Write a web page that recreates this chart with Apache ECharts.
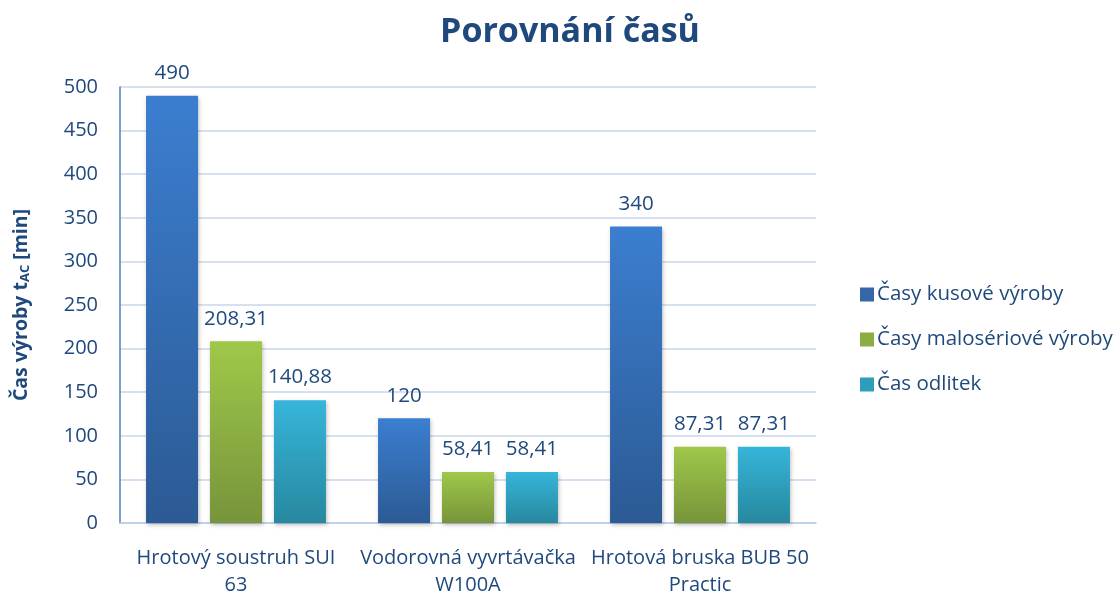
<!DOCTYPE html>
<html lang="cs">
<head>
  <meta charset="UTF-8">
  <title>Porovnání časů</title>
  <script src="https://cdn.jsdelivr.net/npm/echarts@6/dist/echarts.min.js"></script>
  <style>
    body { margin: 0; padding: 0; background: #fff; }
    #chart { width: 1118px; height: 593px; }
  </style>
</head>
<body>
  <div id="chart"></div>
  <script>
    // data
    const machines = ['Hrotový soustruh SUI\n63', 'Vodorovná vyvrtávačka\nW100A', 'Hrotová bruska BUB 50\nPractic'];
    const seriesNames = ['Časy kusové výroby', 'Časy malosériové výroby', 'Čas odlitek'];
    const kusove = [490, 120, 340];
    const maloseriove = [208.31, 58.41, 87.31];
    const odlitek = [140.88, 58.41, 87.31];

    const textColor = '#1F497D';
    const font = '"Open Sans", "Noto Sans", sans-serif';

    function grad(top, bottom) {
      return new echarts.graphic.LinearGradient(0, 0, 0, 1, [
        { offset: 0, color: top },
        { offset: 1, color: bottom }
      ]);
    }

    const colors = [
      grad('#3B7ED0', '#2C5A94'),
      grad('#9FC84A', '#77943A'),
      grad('#36B5DA', '#27889E')
    ];
    const legendColors = ['#3566A8', '#8AAE42', '#2E9DBC'];

    function fmt(v) {
      return String(v).replace('.', ',');
    }

    const chart = echarts.init(document.getElementById('chart'));

    const data = [kusove, maloseriove, odlitek];

    const option = {
      animation: false,
      title: {
        text: 'Porovnání časů',
        left: 565,
        textAlign: 'center',
        top: 10,
        textStyle: { color: textColor, fontSize: 34, fontWeight: 'bold', fontFamily: font }
      },
      legend: {
        orient: 'vertical',
        left: 855,
        top: 279,
        itemWidth: 14,
        itemHeight: 14,
        itemGap: 24,
        icon: 'rect',
        data: seriesNames.map((n, i) => ({ name: n, itemStyle: { color: legendColors[i] } })),
        textStyle: { color: textColor, fontSize: 20.5, fontFamily: font, padding: [0, 0, 0, -2] }
      },
      grid: { left: 120, right: 302, top: 87, bottom: 70, outerBoundsMode: 'none' },
      xAxis: {
        type: 'category',
        data: machines,
        axisLine: { lineStyle: { color: '#B9CDE5', width: 1.5 } },
        axisTick: { length: 14, lineStyle: { color: '#B9CDE5', width: 1.5 } },
        axisLabel: {
          color: textColor, fontSize: 20, fontFamily: font, margin: 22, lineHeight: 27,
          interval: 0
        }
      },
      yAxis: {
        type: 'value',
        min: 0,
        max: 500,
        interval: 50,
        name: '{b|Čas výroby t}{s|AC}{b| [min]}',
        nameLocation: 'middle',
        nameGap: 88,
        nameTextStyle: {
          rich: {
            b: { color: textColor, fontSize: 19.5, fontWeight: 'bold', fontFamily: font },
            s: { color: textColor, fontSize: 13, fontWeight: 'bold', fontFamily: font, verticalAlign: 'bottom', padding: [8, 0, 0, 0] }
          }
        },
        axisLine: { show: true, lineStyle: { color: '#4F81BD', width: 1.5 } },
        axisTick: { show: false },
        axisLabel: { color: textColor, fontSize: 20, fontFamily: font, margin: 22 },
        splitLine: { lineStyle: { color: '#D6E1F0', width: 2 } }
      },
      series: data.map((d, i) => ({
        name: seriesNames[i],
        type: 'bar',
        data: d,
        barWidth: 52,
        barGap: '23%',
        itemStyle: {
          color: colors[i],
          shadowColor: 'rgba(0,0,0,0.25)',
          shadowBlur: 4,
          shadowOffsetX: 1,
          shadowOffsetY: 2
        },
        label: {
          show: true,
          position: 'top',
          distance: 12,
          color: textColor,
          fontSize: 20.5,
          fontFamily: font,
          formatter: p => fmt(p.value)
        }
      }))
    };

    chart.setOption(option);
  </script>
</body>
</html>
